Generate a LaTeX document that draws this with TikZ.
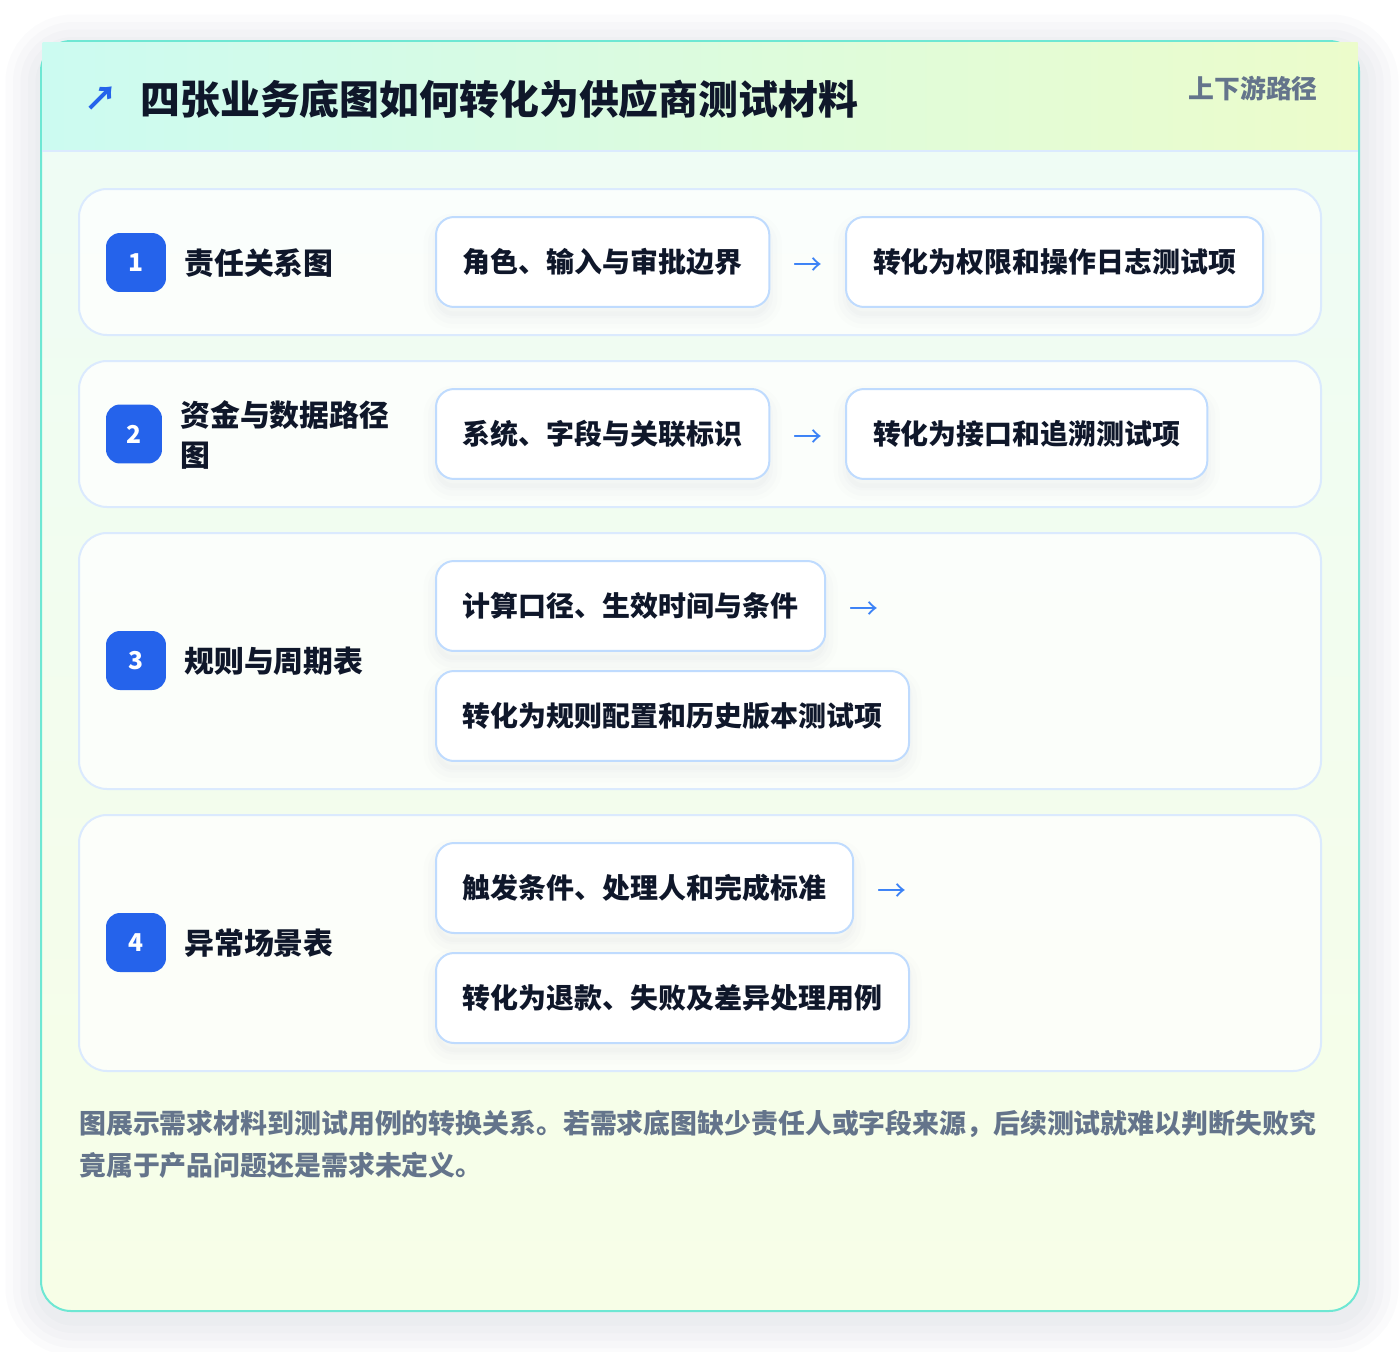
\documentclass[tikz,border=0pt]{standalone}
\usepackage{fontspec}
\setmainfont{Noto Sans CJK SC}
\usetikzlibrary{positioning}

\definecolor{cardline}{HTML}{6EE7D3}
\definecolor{bodytop}{HTML}{EEFCF6}
\definecolor{bodybot}{HTML}{F7FEE7}
\definecolor{headl}{HTML}{CCFBF1}
\definecolor{headr}{HTML}{ECFCCB}
\definecolor{rowline}{HTML}{DBEAFE}
\definecolor{boxline}{HTML}{BFDBFE}
\definecolor{badgeblue}{HTML}{2563EB}
\definecolor{arrowblue}{HTML}{3B82F6}
\definecolor{ink}{HTML}{0F172A}
\definecolor{mute}{HTML}{64748B}
\definecolor{shadowc}{HTML}{64748B}

\tikzset{
  maincard/.style={draw=cardline, line width=0.04cm, top color=bodytop, bottom color=bodybot, rounded corners=0.6cm},
  rowcard/.style={draw=rowline, line width=0.04cm, fill=white, fill opacity=0.75, rounded corners=0.56cm},
  badge/.style={fill=badgeblue, text=white, rounded corners=0.28cm, minimum width=1.2cm, minimum height=1.18cm,
    inner sep=0, font=\bfseries\fontsize{14}{16}\selectfont},
  rowlabel/.style={anchor=west, text=ink, align=left, inner sep=0, font=\bfseries\fontsize{17}{22.7}\selectfont},
  itembox/.style={draw=boxline, line width=0.04cm, fill=white, rounded corners=0.36cm, minimum height=1.8cm,
    inner xsep=0.54cm, text=ink, font=\bfseries\fontsize{15.9}{19}\selectfont,
    preaction={draw=shadowc, draw opacity=0.012, line width=0.5cm, fill=shadowc, fill opacity=0.02,
      transform canvas={yshift=-0.18cm}},
    preaction={draw=shadowc, draw opacity=0.014, line width=0.32cm, transform canvas={yshift=-0.18cm}},
    preaction={draw=shadowc, draw opacity=0.016, line width=0.14cm, transform canvas={yshift=-0.16cm}}},
  flowarrow/.style={text=arrowblue, inner sep=0, font=\fontsize{16.5}{19}\selectfont},
}

\begin{document}
\begin{tikzpicture}[x=0.02cm, y=-0.02cm]
\useasboundingbox (0,0) rectangle (1400,1352);
\fill[white] (0,0) rectangle (1400,1352);

% Soft shadow of the outer card
\foreach \w in {0.3,0.6,0.9,1.2,1.5}
  \draw[shadowc, line width=\w cm, opacity=0.025, rounded corners=0.6cm] (43,52) rectangle (1361,1318);

% Outer card and header band
\draw[maincard] (41,41) rectangle (1359,1311);
\shade[left color=headl, right color=headr] (42.5,42.5) rectangle (1357.5,151);
\draw[rowline, line width=0.04cm] (42,151) -- (1358,151);
\node[text=badgeblue, inner sep=0, font=\bfseries\fontsize{19}{22}\selectfont] (icon) at (101,99) {↗};
\node[anchor=west, text=ink, inner sep=0, font=\bfseries\fontsize{22.7}{26}\selectfont] (title) at (140,99)
  {四张业务底图如何转化为供应商测试材料};
\node[anchor=east, text=mute, inner sep=0, font=\bfseries\fontsize{14.7}{18}\selectfont] (tag) at (1318,89) {上下游路径};

% Row 1
\draw[rowcard] (79,189) rectangle (1321,335);
\node[badge] (n1) at (136,262.5) {1};
\node[rowlabel] (l1) at (184,263) {责任关系图};
\node[itembox, anchor=west] (a1) at (435,262) {角色、输入与审批边界};
\node[flowarrow, right=0.45cm of a1, yshift=-0.1cm] (r1) {→};
\node[itembox, right=0.45cm of r1, yshift=0.1cm] (b1) {转化为权限和操作日志测试项};

% Row 2
\draw[rowcard] (79,361) rectangle (1321,507);
\node[badge, minimum width=1.12cm] (n2) at (134,434) {2};
\node[rowlabel] (l2) at (180,435) {资金与数据路径\\图};
\node[itembox, anchor=west] (a2) at (435,434) {系统、字段与关联标识};
\node[flowarrow, right=0.45cm of a2, yshift=-0.1cm] (r2) {→};
\node[itembox, right=0.45cm of r2, yshift=0.1cm] (b2) {转化为接口和追溯测试项};

% Row 3
\draw[rowcard] (79,533) rectangle (1321,789);
\node[badge] (n3) at (136,660.5) {3};
\node[rowlabel] (l3) at (184,661) {规则与周期表};
\node[itembox, anchor=west] (a3) at (435,606) {计算口径、生效时间与条件};
\node[flowarrow, right=0.45cm of a3, yshift=-0.1cm] (r3) {→};
\node[itembox, anchor=west] (b3) at (435,716) {转化为规则配置和历史版本测试项};

% Row 4
\draw[rowcard] (79,815) rectangle (1321,1071);
\node[badge] (n4) at (136,942.5) {4};
\node[rowlabel] (l4) at (184,943) {异常场景表};
\node[itembox, anchor=west] (a4) at (435,888) {触发条件、处理人和完成标准};
\node[flowarrow, right=0.45cm of a4, yshift=-0.1cm] (r4) {→};
\node[itembox, anchor=west] (b4) at (435,998) {转化为退款、失败及差异处理用例};

% Footnote
\node[anchor=west, text=mute, align=left, inner sep=0, font=\bfseries\fontsize{15.3}{23.8}\selectfont] (note) at (79,1144)
  {图展示需求材料到测试用例的转换关系。若需求底图缺少责任人或字段来源，后续测试就难以判断失败究\\竟属于产品问题还是需求未定义。};
\end{tikzpicture}
\end{document}
